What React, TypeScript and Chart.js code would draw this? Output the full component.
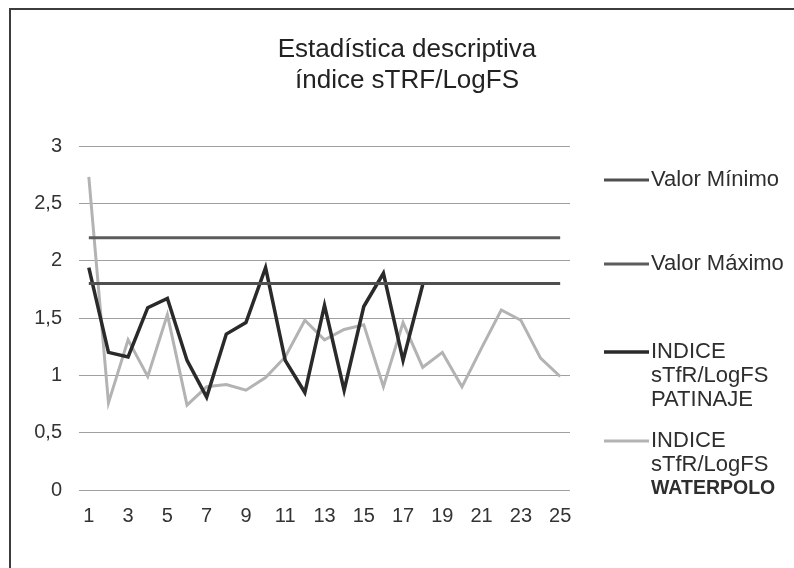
import React, { useEffect, useRef } from "react";
import { Chart, registerables } from "chart.js";

Chart.register(...registerables);

const titleLines = ["Estadística descriptiva", "índice sTRF/LogFS"];
const categories = ["1", "2", "3", "4", "5", "6", "7", "8", "9", "10", "11", "12", "13", "14", "15", "16", "17", "18", "19", "20", "21", "22", "23", "24", "25"];
const yTickLabels = ["0", "0,5", "1", "1,5", "2", "2,5", "3"];

const valorMinimo = [1.8, 1.8, 1.8, 1.8, 1.8, 1.8, 1.8, 1.8, 1.8, 1.8, 1.8, 1.8, 1.8, 1.8, 1.8, 1.8, 1.8, 1.8, 1.8, 1.8, 1.8, 1.8, 1.8, 1.8, 1.8];
const valorMaximo = [2.2, 2.2, 2.2, 2.2, 2.2, 2.2, 2.2, 2.2, 2.2, 2.2, 2.2, 2.2, 2.2, 2.2, 2.2, 2.2, 2.2, 2.2, 2.2, 2.2, 2.2, 2.2, 2.2, 2.2, 2.2];
const patinaje = [1.94, 1.2, 1.16, 1.59, 1.67, 1.13, 0.81, 1.36, 1.46, 1.94, 1.13, 0.85, 1.61, 0.87, 1.6, 1.89, 1.13, 1.79];
const waterpolo = [2.73, 0.76, 1.31, 0.99, 1.53, 0.74, 0.9, 0.92, 0.87, 0.98, 1.16, 1.48, 1.31, 1.4, 1.44, 0.9, 1.46, 1.07, 1.2, 0.9, 1.24, 1.57, 1.48, 1.15, 0.99];

const legendMinimo = ["Valor Mínimo"];
const legendMaximo = ["Valor Máximo"];
const legendPatinaje = ["INDICE", "sTfR/LogFS", "PATINAJE"];
const legendWaterpolo = ["INDICE", "sTfR/LogFS", "WATERPOLO"];

const COL_MIN = "#4f4f4f";
const COL_MAX = "#5c5c5c";
const COL_PAT = "#2a2a2a";
const COL_WAT = "#b3b3b3";

const FONT = "Arial, 'Liberation Sans', Helvetica, sans-serif";

const decorPlugin = {
  id: "decor",
  beforeDraw(chart: any) {
    const ctx = chart.ctx;
    ctx.save();
    ctx.fillStyle = "#ffffff";
    ctx.fillRect(0, 0, chart.width, chart.height);
    ctx.strokeStyle = "#3c3c3c";
    ctx.lineWidth = 2;
    ctx.beginPath();
    ctx.moveTo(10, chart.height + 5);
    ctx.lineTo(10, 9);
    ctx.lineTo(chart.width + 5, 9);
    ctx.stroke();
    ctx.restore();
  },
  afterDraw(chart: any) {
    const ctx = chart.ctx;
    ctx.save();
    // title
    ctx.fillStyle = "#222222";
    ctx.font = `26px ${FONT}`;
    ctx.textAlign = "center";
    ctx.textBaseline = "alphabetic";
    titleLines.forEach((t, i) => ctx.fillText(t, 407, 57 + i * 31));

    // legend
    const items = [
      { lines: legendMinimo, color: COL_MIN, width: 3, y: 180 },
      { lines: legendMaximo, color: COL_MAX, width: 3, y: 264 },
      { lines: legendPatinaje, color: COL_PAT, width: 3.5, y: 352 },
      { lines: legendWaterpolo, color: COL_WAT, width: 3, y: 441 },
    ];
    ctx.textAlign = "left";
    ctx.textBaseline = "middle";
    items.forEach((it, idx) => {
      ctx.strokeStyle = it.color;
      ctx.lineWidth = it.width;
      ctx.beginPath();
      ctx.moveTo(604, it.y);
      ctx.lineTo(649, it.y);
      ctx.stroke();
      it.lines.forEach((ln, j) => {
        const bold = idx === 3 && j === 2;
        ctx.font = bold ? `bold 19.5px ${FONT}` : `22px ${FONT}`;
        ctx.fillStyle = "#2e2e2e";
        ctx.fillText(ln, 651, it.y + j * 24);
      });
    });
    ctx.restore();
  },
};

export default function App() {
  const ref = useRef<HTMLCanvasElement>(null);
  useEffect(() => {
    if (!ref.current) return;
    const chart = new Chart(ref.current, {
      type: "line",
      data: {
        labels: categories,
        datasets: [
          { label: legendMinimo.join(" "), data: valorMinimo, borderColor: COL_MIN, borderWidth: 3, pointRadius: 0, tension: 0, fill: false },
          { label: legendMaximo.join(" "), data: valorMaximo, borderColor: COL_MAX, borderWidth: 3, pointRadius: 0, tension: 0, fill: false },
          { label: legendPatinaje.join(" "), data: patinaje, borderColor: COL_PAT, borderWidth: 3.5, pointRadius: 0, tension: 0, fill: false },
          { label: legendWaterpolo.join(" "), data: waterpolo, borderColor: COL_WAT, borderWidth: 3, pointRadius: 0, tension: 0, fill: false },
        ],
      },
      options: {
        responsive: false,
        animation: false,
        layout: { padding: { left: 0, top: 146, right: 224, bottom: 38 } },
        plugins: { legend: { display: false }, title: { display: false }, tooltip: { enabled: false } },
        scales: {
          x: {
            offset: true,
            grid: { display: false, drawTicks: false },
            border: { display: false },
            ticks: {
              autoSkip: false,
              maxRotation: 0,
              padding: 14,
              color: "#333333",
              font: { family: FONT, size: 20 },
              callback: (_v: any, i: number) => (i % 2 === 0 ? categories[i] : ""),
            },
            afterFit: (s: any) => { s.height = 40; },
          },
          y: {
            min: 0,
            max: 3,
            ticks: {
              stepSize: 0.5,
              padding: 17,
              color: "#333333",
              font: { family: FONT, size: 20 },
              callback: (_v: any, i: number) => yTickLabels[i],
            },
            grid: { color: "#a0a0a0", lineWidth: 1, drawTicks: false },
            border: { display: false },
            afterFit: (s: any) => { s.width = 79; },
          },
        },
      },
      plugins: [decorPlugin],
    });
    return () => chart.destroy();
  }, []);
  return (
    <div style={{ position: "fixed", left: 0, top: 0, width: 794, height: 568, overflow: "hidden", background: "#fff" }}>
      <canvas ref={ref} width={794} height={568} style={{ display: "block" }} />
    </div>
  );
}
